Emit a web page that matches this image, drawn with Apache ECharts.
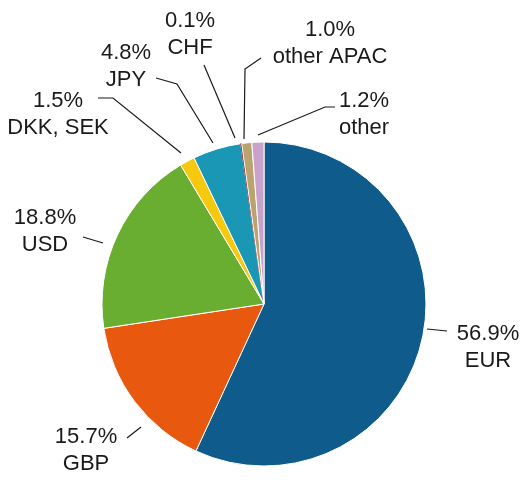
<!DOCTYPE html>
<html>
<head>
<meta charset="utf-8">
<script src="https://cdn.jsdelivr.net/npm/echarts@6/dist/echarts.min.js"></script>
<style>
  html, body { margin: 0; padding: 0; background: #fff; }
  #chart { width: 523px; height: 480px; }
</style>
</head>
<body>
<div id="chart"></div>
<script>
// currency share, clockwise from the top
var currencies = ["EUR", "GBP", "USD", "DKK, SEK", "JPY", "CHF", "other APAC", "other"];
var shares = [56.9, 15.7, 18.8, 1.5, 4.8, 0.1, 1.0, 1.2];
var colors = ["#0f5b8b", "#e9580f", "#69ae30", "#f6c90e", "#1997b4", "#8c1c2c", "#b9a46f", "#c9a2ca"];

// label text centre, then leader line start, elbow and end
var labelSpots = {
  "EUR":        { at: [488, 347], from: [427, 329], elbow: [447, 331], end: [447, 331] },
  "GBP":        { at: [86, 450],  from: [141, 427], elbow: [127, 438], end: [127, 438] },
  "USD":        { at: [45, 231],  from: [103, 243], elbow: [83, 237],  end: [83, 237] },
  "DKK, SEK":   { at: [58, 114],  from: [181, 153], elbow: [113, 98],  end: [98, 98] },
  "JPY":        { at: [126, 66],  from: [213, 143], elbow: [177, 84],  end: [156, 78] },
  "CHF":        { at: [190, 34],  from: [235, 138], elbow: [204, 65],  end: [204, 65] },
  "other APAC": { at: [330, 43],  from: [244, 139], elbow: [245, 69],  end: [261, 58] },
  "other":      { at: [364, 114], from: [258, 135], elbow: [325, 107], end: [335, 107] }
};

var chart = echarts.init(document.getElementById("chart"));

var pieData = currencies.map(function (c, i) {
  var item = { name: c, value: shares[i], itemStyle: { color: colors[i] } };
  if (shares[i] < 0.5) {
    // sliver: keep it visible under the white borders
    item.itemStyle.borderColor = colors[i];
    item.itemStyle.borderWidth = 0.8;
  }
  return item;
});

chart.setOption({
  animation: false,
  series: [
    {
      type: "pie",
      center: [264, 304],
      radius: [0, 162],
      startAngle: 90,
      clockwise: true,
      avoidLabelOverlap: false,
      data: pieData,
      itemStyle: { borderColor: "#fff", borderWidth: 1 },
      label: {
        show: true,
        formatter: function (p) {
          return p.value.toFixed(1) + "%\n" + p.name;
        },
        fontFamily: "Liberation Sans, Arial, sans-serif",
        fontSize: 22,
        lineHeight: 27,
        color: "#1a1a1a",
        align: "center"
      },
      labelLine: {
        show: true,
        lineStyle: { color: "#1a1a1a", width: 1.2 }
      },
      labelLayout: function (params) {
        var spot = labelSpots[currencies[params.dataIndex]];
        return {
          x: spot.at[0],
          y: spot.at[1],
          align: "center",
          verticalAlign: "middle",
          labelLinePoints: [spot.from, spot.elbow, spot.end]
        };
      }
    }
  ]
});
</script>
</body>
</html>
